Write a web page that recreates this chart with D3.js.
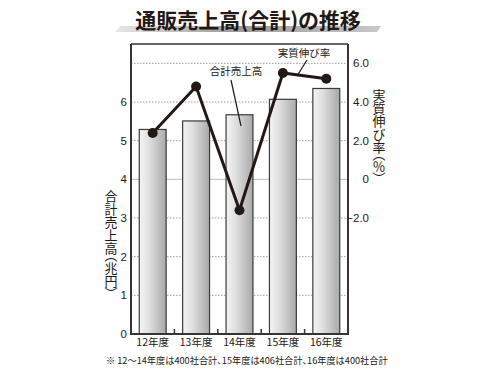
<!DOCTYPE html>
<html>
<head>
<meta charset="utf-8">
<script src="https://cdn.jsdelivr.net/npm/d3@7"></script>
<style>
  body { margin: 0; background: #fff; }
  svg text { font-family: "Noto Sans CJK JP", "Noto Sans", sans-serif; fill: #231815; }
</style>
</head>
<body>
<svg id="chart"></svg>
<script>
var width = 500;
var height = 375;

// data
var years = ['12年度', '13年度', '14年度', '15年度', '16年度'];
var sales = [5.29, 5.51, 5.67, 6.07, 6.35];      // 合計売上高 (兆円)
var growth = [2.4, 4.8, -1.6, 5.5, 5.2];         // 実質伸び率 (%)
var leftTicks = [0, 1, 2, 3, 4, 5, 6];
var rightTicks = [-2, 0, 2, 4, 6];

var svg = d3.select('#chart').attr('width', width).attr('height', height);

var plot = { left: 131, right: 348, top: 44, bottom: 334 };

var x = d3.scaleBand()
  .domain(years)
  .range([plot.left, plot.right])
  .paddingInner(0.38)
  .paddingOuter(0.19);

var yLeft = d3.scaleLinear().domain([0, 7.5]).range([plot.bottom, plot.top]);
var yRight = d3.scaleLinear().domain([-8, 7]).range([plot.bottom, plot.top]);

var defs = svg.append('defs');
var grad = defs.append('linearGradient').attr('id', 'barGrad')
  .attr('x1', 0).attr('x2', 1).attr('y1', 0).attr('y2', 0);
grad.append('stop').attr('offset', '0%').attr('stop-color', '#f4f4f4');
grad.append('stop').attr('offset', '35%').attr('stop-color', '#e0e0e0');
grad.append('stop').attr('offset', '100%').attr('stop-color', '#a9a9a9');

var ulGrad = defs.append('linearGradient').attr('id', 'ulGrad')
  .attr('x1', 0).attr('x2', 1).attr('y1', 0).attr('y2', 0);
ulGrad.append('stop').attr('offset', '0%').attr('stop-color', '#e8e8e8');
ulGrad.append('stop').attr('offset', '45%').attr('stop-color', '#9a9a9a');
ulGrad.append('stop').attr('offset', '100%').attr('stop-color', '#c8c8c8');

// title with slanted underline
svg.append('path')
  .attr('d', 'M120,26 L381,26 L377,32 L115,32 Z')
  .attr('fill', 'url(#ulGrad)');
svg.append('text')
  .attr('x', 248).attr('y', 28)
  .attr('text-anchor', 'middle')
  .style('font-size', '21px').style('font-weight', 'bold')
  .style('font-feature-settings', '"palt"')
  .text('通販売上高(合計)の推移');

// gridlines
svg.append('g').selectAll('line')
  .data([1, 2, 3, 4, 5, 6, 7])
  .enter().append('line')
  .attr('x1', plot.left).attr('x2', plot.right)
  .attr('y1', d => yLeft(d)).attr('y2', d => yLeft(d))
  .attr('stroke', d => d === 4 ? '#bdbdbd' : '#9e9e9e')
  .attr('stroke-width', 1)
  .attr('stroke-dasharray', d => d === 4 ? null : '1.5,1.5');

// bars
svg.append('g').selectAll('rect')
  .data(sales)
  .enter().append('rect')
  .attr('x', (d, i) => x(years[i]))
  .attr('width', x.bandwidth())
  .attr('y', d => yLeft(d))
  .attr('height', d => plot.bottom - yLeft(d))
  .attr('fill', 'url(#barGrad)')
  .attr('stroke', '#3a3a3a')
  .attr('stroke-width', 1.2);

// frame
var frame = svg.append('g').attr('stroke', '#3a3330').attr('fill', 'none');
frame.append('line').attr('x1', plot.left).attr('x2', plot.right)
  .attr('y1', plot.top).attr('y2', plot.top).attr('stroke-width', 1.5);
frame.append('line').attr('x1', plot.left).attr('x2', plot.right)
  .attr('y1', plot.bottom).attr('y2', plot.bottom).attr('stroke-width', 2);
frame.append('line').attr('x1', plot.left).attr('x2', plot.left)
  .attr('y1', plot.top).attr('y2', plot.bottom + 1).attr('stroke-width', 2);
frame.append('line').attr('x1', plot.right).attr('x2', plot.right)
  .attr('y1', plot.top).attr('y2', plot.bottom + 1).attr('stroke-width', 2);

// bottom ticks between categories
svg.append('g').selectAll('line')
  .data(years.slice(1))
  .enter().append('line')
  .attr('x1', d => x(d) - x.step() * x.paddingInner() / 2)
  .attr('x2', d => x(d) - x.step() * x.paddingInner() / 2)
  .attr('y1', plot.bottom).attr('y2', plot.bottom - 5)
  .attr('stroke', '#3a3330').attr('stroke-width', 1.5);

// x labels
svg.append('g').selectAll('text')
  .data(years)
  .enter().append('text')
  .attr('x', d => x(d) + x.bandwidth() / 2)
  .attr('y', plot.bottom + 12)
  .attr('text-anchor', 'middle')
  .style('font-size', '10.5px')
  .text(d => d);

// left tick labels
svg.append('g').selectAll('text')
  .data(leftTicks)
  .enter().append('text')
  .attr('x', 127).attr('y', d => yLeft(d) + 4)
  .attr('text-anchor', 'end')
  .style('font-family', '"Liberation Sans", Arial, sans-serif')
  .style('font-size', '11.5px')
  .text(d => d);

// right tick labels
svg.append('g').selectAll('text')
  .data(rightTicks)
  .enter().append('text')
  .attr('x', 369).attr('y', d => yRight(d) + 4)
  .attr('text-anchor', 'end')
  .style('font-family', '"Liberation Sans", Arial, sans-serif')
  .style('font-size', '11.5px')
  .text(d => d === 0 ? '0' : d3.format('.1f')(d));

// growth line
var line = d3.line()
  .x((d, i) => x(years[i]) + x.bandwidth() / 2)
  .y(d => yRight(d));
svg.append('path')
  .datum(growth)
  .attr('d', line)
  .attr('fill', 'none')
  .attr('stroke', '#231815')
  .attr('stroke-width', 3);
svg.append('g').selectAll('circle')
  .data(growth)
  .enter().append('circle')
  .attr('cx', (d, i) => x(years[i]) + x.bandwidth() / 2)
  .attr('cy', d => yRight(d))
  .attr('r', 5)
  .attr('fill', '#231815');

// annotations
svg.append('text').attr('x', 236).attr('y', 75)
  .attr('text-anchor', 'middle').style('font-size', '10.5px').text('合計売上高');
svg.append('line').attr('x1', 231).attr('y1', 80).attr('x2', 241).attr('y2', 126)
  .attr('stroke', '#231815').attr('stroke-width', 1.2);
svg.append('text').attr('x', 304).attr('y', 57)
  .attr('text-anchor', 'middle').style('font-size', '10.5px').text('実質伸び率');
svg.append('line').attr('x1', 307).attr('y1', 60).attr('x2', 297).attr('y2', 76)
  .attr('stroke', '#231815').attr('stroke-width', 1.2);

// axis titles (vertical writing)
svg.append('text')
  .attr('x', 111).attr('y', 190)
  .style('writing-mode', 'vertical-rl')
  .style('font-feature-settings', '"vpal"')
  .style('font-size', '13px')
  .text('合計売上高（兆円）');
svg.append('text')
  .attr('x', 379).attr('y', 89)
  .style('writing-mode', 'vertical-rl')
  .style('font-feature-settings', '"vpal"')
  .style('font-size', '13px')
  .text('実質伸び率（％）');

// footnote
svg.append('text')
  .attr('x', 106).attr('y', 364)
  .style('font-size', '9.2px')
  .style('font-feature-settings', '"palt"')
  .text('※ 12～14年度は400社合計、15年度は406社合計、16年度は400社合計');
</script>
</body>
</html>
